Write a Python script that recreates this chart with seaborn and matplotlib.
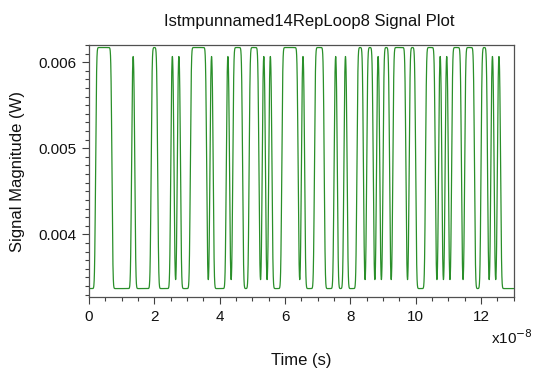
import numpy as np
import pandas as pd
import matplotlib
matplotlib.use("Agg")
import matplotlib.pyplot as plt
import seaborn as sns
from matplotlib.ticker import MultipleLocator

# ---- data (NRZ bit pattern, 1 ns per bit) ----
bits = [0, 0, 1, 1, 1, 1, 1, 0, 0, 0,
        0, 0, 0, 1, 0, 0, 0, 0, 0, 1,
        1, 0, 0, 0, 0, 1, 0, 1, 0, 0,
        0, 1, 1, 1, 1, 1, 0, 1, 0, 0,
        0, 0, 1, 0, 1, 1, 1, 0, 0, 1,
        1, 1, 0, 1, 0, 1, 0, 0, 0, 1,
        1, 1, 1, 1, 0, 1, 0, 0, 0, 1,
        1, 1, 0, 0, 0, 1, 0, 0, 1, 0,
        0, 0, 1, 1, 0, 1, 1, 0, 1, 0,
        1, 1, 0, 1, 1, 1, 1, 0, 1, 1,
        0, 0, 0, 1, 1, 1, 0, 1, 0, 1,
        0, 1, 1, 1, 0, 1, 1, 1, 0, 0,
        1, 1, 0, 1, 0, 1, 0, 0, 0, 0]
bit_period_s = 1.0e-9
low_level_w = 0.00337
high_level_w = 0.00617
edge_sigma_s = 0.24e-9   # smoothing of the transitions

# ---- waveform: bit levels smoothed by a gaussian edge response ----
steps_per_bit = 60
dt = bit_period_s / steps_per_bit
target = np.repeat(np.array(bits, dtype=float), steps_per_bit)
k = np.arange(-int(1.2 * steps_per_bit), int(1.2 * steps_per_bit) + 1) * dt
kernel = np.exp(-0.5 * (k / edge_sigma_s) ** 2)
kernel /= kernel.sum()
pad = len(k)
padded = np.concatenate([np.full(pad, target[0]), target,
                         np.full(pad, target[-1])])
y = np.convolve(padded, kernel, mode="same")[pad:-pad]
t = np.arange(len(target)) * dt
df = pd.DataFrame({"time": t / 1e-8,
                   "signal": low_level_w + (high_level_w - low_level_w) * y})

# ---- figure ----
sns.set_style("white")
plt.rcParams["font.family"] = ["Liberation Sans", "DejaVu Sans"]
fig = plt.figure(figsize=(5.5, 3.81), dpi=100)
ax = fig.add_axes([0.162, 0.220, 0.772, 0.662])
sns.lineplot(data=df, x="time", y="signal", ax=ax, color="#2a8f2a",
             linewidth=0.9, estimator=None, sort=False)

ax.set_xlim(0, 13)
ax.set_ylim(0.00327, 0.00620)
ax.xaxis.set_major_locator(MultipleLocator(2))
ax.xaxis.set_minor_locator(MultipleLocator(0.5))
ax.yaxis.set_major_locator(MultipleLocator(0.001))
ax.yaxis.set_minor_locator(MultipleLocator(0.0001))
ax.set_xticks([0, 2, 4, 6, 8, 10, 12])
ax.set_xticklabels(["0", "2", "4", "6", "8", "10", "12"])
ax.set_yticks([0.004, 0.005, 0.006])
ax.set_yticklabels(["0.004", "0.005", "0.006"])
ax.tick_params(axis="both", which="major", direction="out", length=5,
               width=0.8, color="#404040", labelsize=11, pad=4,
               bottom=True, left=True, labelcolor="#111111")
ax.tick_params(axis="both", which="minor", direction="out", length=3,
               width=0.8, color="#404040", bottom=True, left=True)
for s in ax.spines.values():
    s.set_color("#505050")
    s.set_linewidth(0.9)

ax.set_title("Istmpunnamed14RepLoop8 Signal Plot", fontsize=12, pad=14,
             x=0.519, color="#111111")
ax.set_xlabel("Time (s)", fontsize=12, labelpad=21, color="#111111")
ax.set_ylabel("Signal Magnitude (W)", fontsize=12, labelpad=10,
              color="#111111")
ax.text(1.045, -0.125, "x10$^{-8}$", transform=ax.transAxes, ha="right",
        va="top", fontsize=11, color="#111111")

fig.savefig("out.png", dpi=100)
